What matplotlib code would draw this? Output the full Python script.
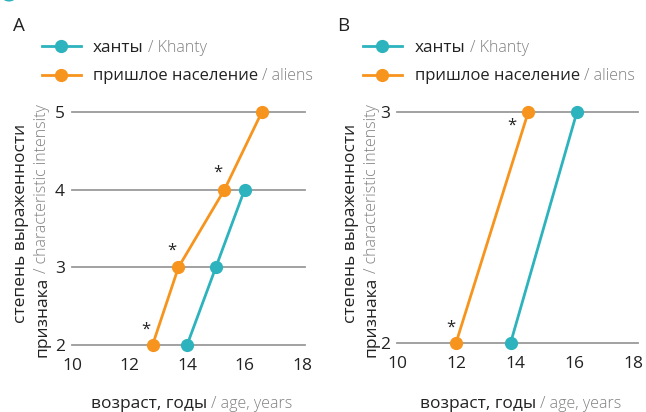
import matplotlib
matplotlib.use("Agg")
import matplotlib.pyplot as plt
from matplotlib.patches import Circle

plt.rcParams['font.family'] = ['Open Sans', 'DejaVu Sans']

W, H = 646, 412
TEAL = "#2cb3bd"
ORANGE = "#f7941d"
DARK = "#222222"
GREY = "#808080"

# панель A
a_ticks_y = [2, 3, 4, 5]
a_khanty_x = [14.0, 15.0, 16.0]
a_khanty_y = [2, 3, 4]
a_aliens_x = [12.8, 13.7, 15.3, 16.6]
a_aliens_y = [2, 3, 4, 5]
a_stars = [True, True, True, False]

# панель B
b_ticks_y = [2, 3]
b_khanty_x = [13.85, 16.1]
b_khanty_y = [2, 3]
b_aliens_x = [12.0, 14.45]
b_aliens_y = [2, 3]
b_stars = [True, True]

x_ticks = [10, 12, 14, 16, 18]

fig = plt.figure(figsize=(W / 100, H / 100), dpi=100)


def px(x, y):
    return x / W, 1 - y / H


def two_tone(x, y, a, b, sa=12.5, sb=11.5, rot=False, gap=4):
    # черный текст + серый английский после него
    fig.canvas.draw()
    r = fig.canvas.get_renderer()
    if not rot:
        t1 = fig.text(*px(x, y), a, fontsize=sa, color=DARK, va='baseline', ha='left')
        bb = t1.get_window_extent(r)
        fig.text(*px(bb.x1 + gap, y), "/ " + b, fontsize=sb, color=GREY,
                 va='baseline', ha='left', fontweight='light')
        return
    t1 = fig.text(*px(x, y), a, fontsize=sa, color=DARK, va='baseline', ha='left',
                  rotation=90, rotation_mode='anchor')
    bb = t1.get_window_extent(r)
    fig.text(x / W, (bb.y1 + gap) / H, "/ " + b, fontsize=sb,
             color=GREY, va='baseline', ha='left', rotation=90, rotation_mode='anchor',
             fontweight='light')


def panel(left, right, top, bottom, xlim, ylim, yticks, kx, ky, ax_, ay, stars, star_off):
    ax = fig.add_axes([left / W, 1 - bottom / H, (right - left) / W, (bottom - top) / H])
    ax.set_xlim(*xlim)
    ax.set_ylim(*ylim)
    for v in yticks:
        ax.axhline(v, color="#9a9a9a", lw=1.3, zorder=1, clip_on=False)
    ax.plot(kx, ky, color=TEAL, lw=2, marker='o', ms=8.5, clip_on=False, zorder=3)
    ax.plot(ax_, ay, color=ORANGE, lw=2, marker='o', ms=8.5, clip_on=False, zorder=4)
    for i, s in enumerate(stars):
        if s:
            ax.annotate("*", (ax_[i], ay[i]), xytext=star_off[i], textcoords="offset points",
                        ha='center', va='center', fontsize=12, color=DARK)
    ax.set_yticks(yticks)
    ax.set_xticks(x_ticks)
    ax.tick_params(length=0, labelsize=12.5, colors=DARK, pad=5)
    ax.tick_params(axis='x', pad=9)
    for sp in ax.spines.values():
        sp.set_visible(False)
    ax.patch.set_alpha(0)
    return ax


panel(72, 305, 112, 345, (10, 18.1), (2, 5), a_ticks_y,
      a_khanty_x, a_khanty_y, a_aliens_x, a_aliens_y, a_stars,
      [(-5, 11), (-5, 12), (-5, 12), (0, 0)])
panel(397, 638, 112, 343, (10, 18.17), (2, 3), b_ticks_y,
      b_khanty_x, b_khanty_y, b_aliens_x, b_aliens_y, b_stars,
      [(-4, 11), (-12, -10)])

for x0, letter in [(13, "A"), (337, "B")]:
    fig.text(*px(x0, 31), letter, fontsize=13.5, color=DARK, va='baseline')

for lx, tx in [(42, 93), (363, 415)]:
    for yy, col in [(46, TEAL), (75, ORANGE)]:
        fig.add_artist(plt.Line2D([lx / W, (lx + 39) / W], [1 - yy / H] * 2, color=col, lw=2))
        fig.add_artist(plt.Line2D([(lx + 19) / W], [1 - yy / H], color=col, marker='o', ms=8.5))
    two_tone(tx, 51.5, "ханты", "Khanty", sa=12.3)
    two_tone(tx, 79.5, "пришлое население", "aliens", sa=12.0)

for xl, ylx in [(91, 0), (420, 330)]:
    two_tone(xl, 408, "возраст, годы", "age, years")
    fig.text(*px(ylx + 25, 323), "степень выраженности", fontsize=12.5, color=DARK,
             rotation=90, rotation_mode='anchor', va='baseline', ha='left')
    two_tone(ylx + 46, 357, "признака", "characteristic intensity", rot=True)

fig.add_artist(Circle((9 / W, 1 + 3 / H), 6 / W, color=TEAL, transform=fig.transFigure, clip_on=False))

fig.savefig("out.png", dpi=100)
